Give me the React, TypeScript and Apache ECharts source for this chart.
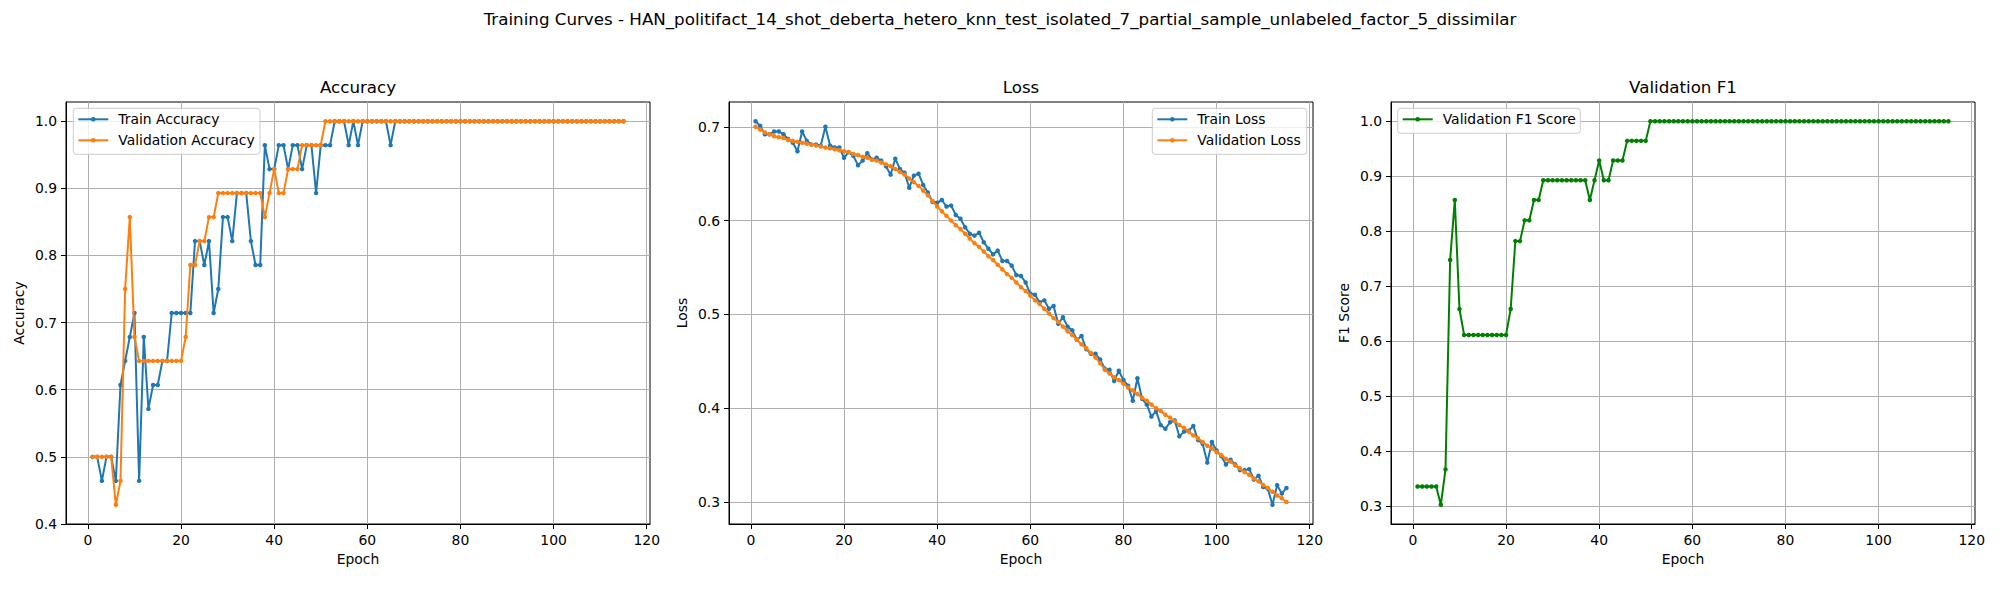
import React, { useEffect, useRef } from "react";
import * as echarts from "echarts";

const SUPTITLE =
  "Training Curves - HAN_politifact_14_shot_deberta_hetero_knn_test_isolated_7_partial_sample_unlabeled_factor_5_dissimilar";
const panelTitles = ["Accuracy", "Loss", "Validation F1"];
const yLabels = ["Accuracy", "Loss", "F1 Score"];
const xLabel = "Epoch";

const epochs: number[] = Array.from({ length: 115 }, (_, i) => i + 1);

const trainAcc = [
  0.5, 0.5, 0.4643, 0.5, 0.5, 0.4643, 0.6071, 0.6429, 0.6786, 0.7143,
  0.4643, 0.6786, 0.5714, 0.6071, 0.6071, 0.6429, 0.6429, 0.7143, 0.7143, 0.7143,
  0.7143, 0.7143, 0.8214, 0.8214, 0.7857, 0.8214, 0.7143, 0.75, 0.8571, 0.8571,
  0.8214, 0.8929, 0.8929, 0.8929, 0.8214, 0.7857, 0.7857, 0.9643, 0.9286, 0.9286,
  0.9643, 0.9643, 0.9286, 0.9643, 0.9643, 0.9286, 0.9643, 0.9643, 0.8929, 0.9643,
  0.9643, 0.9643, 1, 1, 1, 0.9643, 1, 0.9643, 1, 1,
  1, 1, 1, 1, 0.9643, 1, 1, 1, 1, 1,
  1, 1, 1, 1, 1, 1, 1, 1, 1, 1,
  1, 1, 1, 1, 1, 1, 1, 1, 1, 1,
  1, 1, 1, 1, 1, 1, 1, 1, 1, 1,
  1, 1, 1, 1, 1, 1, 1, 1, 1, 1,
  1, 1, 1, 1, 1,
];

const valAcc = [
  0.5, 0.5, 0.5, 0.5, 0.5, 0.428571, 0.4643, 0.75, 0.8571, 0.6786,
  0.6429, 0.6429, 0.6429, 0.6429, 0.6429, 0.6429, 0.6429, 0.6429, 0.6429, 0.6429,
  0.6786, 0.7857, 0.7857, 0.8214, 0.8214, 0.8571, 0.8571, 0.8929, 0.8929, 0.8929,
  0.8929, 0.8929, 0.8929, 0.8929, 0.8929, 0.8929, 0.8929, 0.8571, 0.8929, 0.9286,
  0.8929, 0.8929, 0.9286, 0.9286, 0.9286, 0.9643, 0.9643, 0.9643, 0.9643, 0.9643,
  1, 1, 1, 1, 1, 1, 1, 1, 1, 1,
  1, 1, 1, 1, 1, 1, 1, 1, 1, 1,
  1, 1, 1, 1, 1, 1, 1, 1, 1, 1,
  1, 1, 1, 1, 1, 1, 1, 1, 1, 1,
  1, 1, 1, 1, 1, 1, 1, 1, 1, 1,
  1, 1, 1, 1, 1, 1, 1, 1, 1, 1,
  1, 1, 1, 1, 1,
];

const trainLoss = [
  0.706, 0.701, 0.692, 0.692, 0.695, 0.695, 0.692, 0.687, 0.683, 0.674,
  0.695, 0.685, 0.681, 0.681, 0.68, 0.7, 0.68, 0.678, 0.678, 0.667,
  0.673, 0.669, 0.659, 0.664, 0.672, 0.665, 0.667, 0.664, 0.658, 0.649,
  0.666, 0.655, 0.651, 0.635, 0.648, 0.65, 0.638, 0.63, 0.62, 0.619,
  0.622, 0.615, 0.616, 0.606, 0.602, 0.593, 0.586, 0.584, 0.587, 0.577,
  0.57, 0.564, 0.568, 0.557, 0.557, 0.552, 0.542, 0.541, 0.534, 0.522,
  0.521, 0.513, 0.515, 0.506, 0.509, 0.49, 0.497, 0.487, 0.483, 0.473,
  0.477, 0.463, 0.458, 0.458, 0.452, 0.442, 0.441, 0.429, 0.44, 0.43,
  0.424, 0.408, 0.432, 0.41, 0.404, 0.391, 0.397, 0.382, 0.378, 0.385,
  0.387, 0.37, 0.375, 0.376, 0.381, 0.366, 0.362, 0.342, 0.364, 0.355,
  0.349, 0.34, 0.345, 0.34, 0.334, 0.334, 0.335, 0.324, 0.328, 0.316,
  0.314, 0.297, 0.318, 0.309, 0.315,
];

const valLoss = [
  0.7, 0.697, 0.694, 0.692, 0.69, 0.689, 0.688, 0.686, 0.685, 0.684,
  0.683, 0.682, 0.681, 0.68, 0.679, 0.678, 0.677, 0.676, 0.675, 0.674,
  0.673, 0.671, 0.67, 0.668, 0.667, 0.665, 0.664, 0.662, 0.66, 0.658,
  0.655, 0.652, 0.649, 0.645, 0.641, 0.637, 0.632, 0.627, 0.621, 0.615,
  0.61, 0.605, 0.6, 0.595, 0.591, 0.586, 0.581, 0.576, 0.572, 0.567,
  0.562, 0.558, 0.553, 0.548, 0.543, 0.539, 0.534, 0.529, 0.525, 0.52,
  0.515, 0.511, 0.506, 0.501, 0.496, 0.492, 0.487, 0.482, 0.478, 0.473,
  0.468, 0.464, 0.459, 0.454, 0.448, 0.441, 0.437, 0.433, 0.43, 0.426,
  0.422, 0.419, 0.415, 0.411, 0.408, 0.404, 0.4, 0.397, 0.393, 0.39,
  0.386, 0.382, 0.379, 0.375, 0.371, 0.368, 0.364, 0.36, 0.357, 0.353,
  0.35, 0.346, 0.343, 0.339, 0.336, 0.332, 0.329, 0.325, 0.322, 0.318,
  0.315, 0.311, 0.307, 0.304, 0.3,
];

const valF1 = [
  0.3352, 0.3352, 0.3352, 0.3352, 0.3352, 0.302, 0.3665, 0.7475, 0.8566, 0.6583,
  0.6111, 0.6111, 0.6111, 0.6111, 0.6111, 0.6111, 0.6111, 0.6111, 0.6111, 0.6111,
  0.6583, 0.7818, 0.7818, 0.8196, 0.8196, 0.8566, 0.8566, 0.8925, 0.8925, 0.8925,
  0.8925, 0.8925, 0.8925, 0.8925, 0.8925, 0.8925, 0.8925, 0.8566, 0.8925, 0.9284,
  0.8925, 0.8925, 0.9284, 0.9284, 0.9284, 0.9642, 0.9642, 0.9642, 0.9642, 0.9642,
  1, 1, 1, 1, 1, 1, 1, 1, 1, 1,
  1, 1, 1, 1, 1, 1, 1, 1, 1, 1,
  1, 1, 1, 1, 1, 1, 1, 1, 1, 1,
  1, 1, 1, 1, 1, 1, 1, 1, 1, 1,
  1, 1, 1, 1, 1, 1, 1, 1, 1, 1,
  1, 1, 1, 1, 1, 1, 1, 1, 1, 1,
  1, 1, 1, 1, 1,
];

const xTicks = [0, 20, 40, 60, 80, 100, 120];
const accTicks = [0.4, 0.5, 0.6, 0.7, 0.8, 0.9, 1.0];
const lossTicks = [0.3, 0.4, 0.5, 0.6, 0.7];
const f1Ticks = [0.3, 0.4, 0.5, 0.6, 0.7, 0.8, 0.9, 1.0];

const C_TRAIN = "#1f77b4";
const C_VAL = "#ff7f0e";
const C_F1 = "#008000";
const FONT = "DejaVu Sans";
const FS = 13.9;

function pairs(ys: number[]) {
  return ys.map((y, i) => [epochs[i], y]);
}
function padded(arrs: number[][]): [number, number] {
  const all = arrs.flat();
  const lo = Math.min(...all);
  const hi = Math.max(...all);
  const p = (hi - lo) * 0.05;
  return [lo - p - 1e-5, hi + p + 1e-5];
}

const GRID_LEFTS = [66, 729, 1391];
const GRID_TOP = 102;
const GRID_W = 584;
const GRID_H = 422;

function buildOption() {
  const xr = padded([epochs]);
  const yRanges = [
    padded([trainAcc, valAcc]),
    padded([trainLoss, valLoss]),
    padded([valF1]),
  ];
  const yTickSets = [accTicks, lossTicks, f1Ticks];

  const grids = GRID_LEFTS.map((l) => ({
    left: l,
    top: GRID_TOP,
    width: GRID_W,
    height: GRID_H,
    show: true,
    borderColor: "#000",
    borderWidth: 1,
    backgroundColor: "transparent",
  }));

  const xAxes = GRID_LEFTS.map((_, i) => ({
    type: "value",
    gridIndex: i,
    min: xr[0],
    max: xr[1],
    axisLine: { show: true, onZero: false, lineStyle: { color: "#000", width: 1 } },
    axisTick: { show: true, customValues: xTicks, length: 5, lineStyle: { color: "#000", width: 1 } },
    axisLabel: {
      customValues: xTicks,
      color: "#000",
      fontSize: FS,
      fontFamily: FONT,
      margin: 9,
      showMinLabel: true,
      showMaxLabel: true,
      hideOverlap: false,
    },
    splitLine: { show: true, lineStyle: { color: "#b0b0b0", width: 1 } },
    name: xLabel,
    nameLocation: "middle",
    nameGap: 28,
    nameTextStyle: { color: "#000", fontSize: FS, fontFamily: FONT },
  }));

  const yAxes = GRID_LEFTS.map((_, i) => ({
    type: "value",
    gridIndex: i,
    min: yRanges[i][0],
    max: yRanges[i][1],
    axisLine: { show: true, onZero: false, lineStyle: { color: "#000", width: 1 } },
    axisTick: { show: true, customValues: yTickSets[i], length: 5, lineStyle: { color: "#000", width: 1 } },
    axisLabel: {
      customValues: yTickSets[i],
      color: "#000",
      fontSize: FS,
      fontFamily: FONT,
      margin: 9,
      showMinLabel: true,
      showMaxLabel: true,
      hideOverlap: false,
      formatter: (v: number) => v.toFixed(1),
    },
    splitLine: { show: true, lineStyle: { color: "#b0b0b0", width: 1 } },
    name: yLabels[i],
    nameLocation: "middle",
    nameGap: 40,
    nameTextStyle: { color: "#000", fontSize: FS, fontFamily: FONT },
  }));

  const mk = (name: string, data: number[], color: string, idx: number, z: number) => ({
    type: "line",
    name,
    xAxisIndex: idx,
    yAxisIndex: idx,
    data: pairs(data),
    symbol: "circle",
    symbolSize: 4.5,
    showSymbol: true,
    lineStyle: { color, width: 2 },
    itemStyle: { color },
    z,
    silent: true,
  });

  const series = [
    mk("Train Accuracy", trainAcc, C_TRAIN, 0, 2),
    mk("Validation Accuracy", valAcc, C_VAL, 0, 3),
    mk("Train Loss", trainLoss, C_TRAIN, 1, 2),
    mk("Validation Loss", valLoss, C_VAL, 1, 3),
    mk("Validation F1 Score", valF1, C_F1, 2, 2),
  ];

  const legends = [
    { x: 73.3, y: 108.3, w: 186.7, items: [["Train Accuracy", C_TRAIN], ["Validation Accuracy", C_VAL]] },
    { x: 1152.3, y: 108.3, w: 154.4, items: [["Train Loss", C_TRAIN], ["Validation Loss", C_VAL]] },
    { x: 1397.7, y: 108.3, w: 182.6, items: [["Validation F1 Score", C_F1]] },
  ];

  const graphics: any[] = [];
  graphics.push({
    type: "text",
    x: 1000,
    y: 19,
    z: 100,
    style: { text: SUPTITLE, fill: "#000", fontSize: 16.7, fontFamily: FONT, align: "center", verticalAlign: "middle" },
  });
  GRID_LEFTS.forEach((l, i) => {
    graphics.push({
      type: "text",
      x: l + GRID_W / 2,
      y: 87,
      z: 100,
      style: { text: panelTitles[i], fill: "#000", fontSize: 16.7, fontFamily: FONT, align: "center", verticalAlign: "middle" },
    });
  });
  legends.forEach((lg) => {
    const rowH = 21;
    const h = lg.items.length * rowH + 4;
    graphics.push({
      type: "rect",
      z: 100,
      shape: { x: lg.x, y: lg.y, width: lg.w, height: h, r: 3 },
      style: { fill: "rgba(255,255,255,0.8)", stroke: "#cccccc", lineWidth: 1 },
    });
    lg.items.forEach(([label, color], k) => {
      const cy = lg.y + 11 + k * rowH;
      const x0 = lg.x + 5;
      graphics.push({
        type: "line",
        z: 101,
        shape: { x1: x0, y1: cy, x2: x0 + 30, y2: cy },
        style: { stroke: color, lineWidth: 2 },
      });
      graphics.push({
        type: "circle",
        z: 102,
        shape: { cx: x0 + 15, cy, r: 2.3 },
        style: { fill: color },
      });
      graphics.push({
        type: "text",
        z: 102,
        x: x0 + 40,
        y: cy,
        style: { text: label, fill: "#000", fontSize: FS, fontFamily: FONT, align: "left", verticalAlign: "middle" },
      });
    });
  });

  return {
    animation: false,
    backgroundColor: "#fff",
    grid: grids,
    xAxis: xAxes,
    yAxis: yAxes,
    series,
    graphic: graphics,
  };
}

export default function App() {
  const ref = useRef<HTMLDivElement>(null);
  useEffect(() => {
    if (!ref.current) return;
    const chart = echarts.init(ref.current, undefined, { renderer: "svg" });
    chart.setOption(buildOption() as any);
    return () => {
      chart.dispose();
    };
  }, []);
  return (
    <div
      ref={ref}
      style={{ position: "absolute", left: 0, top: 0, width: 2000, height: 600, background: "#fff" }}
    />
  );
}
